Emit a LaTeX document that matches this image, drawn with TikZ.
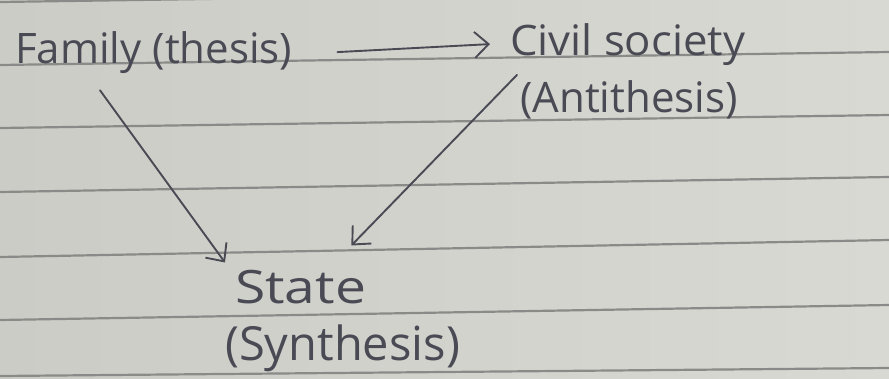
\documentclass[tikz,border=0pt]{standalone}
\usepackage{fontspec}
\setmainfont{Open Sans}
\usetikzlibrary{arrows.meta}
\definecolor{paper}{HTML}{D9D9D4}
\definecolor{paperdark}{HTML}{CCCCC7}
\definecolor{rule}{HTML}{8A8A88}
\definecolor{ink}{HTML}{4A4A55}
\tikzset{
  hand/.style={inner sep=0pt, text=ink, font=\fontsize{42}{46}\selectfont},
  arr/.style={draw=ink, line width=1.9pt, line cap=round,
    -{Straight Barb[length=14pt,width=26pt,line width=1.9pt]}},
  ruled/.style={draw=rule, line width=2.2pt}
}
\begin{document}
\begin{tikzpicture}[x=1pt,y=-1pt]
\useasboundingbox (0,0) rectangle (889,378);
\shade[left color=paperdark, right color=paper] (0,0) rectangle (889,378);
% ruled lines
\draw[ruled] (0,2) -- (889,-11);
\draw[ruled] (0,65) -- (889,52);
\draw[ruled] (0,128) -- (889,115);
\draw[ruled] (0,192) -- (889,177);
\draw[ruled] (0,257) -- (889,240);
\draw[ruled] (0,320) -- (889,305);
\draw[ruled] (0,376) -- (889,368);
% texts
\node[hand, anchor=base west] (fam) at (15,63) {Family (thesis)};
\node[hand, anchor=base west] (civ) at (510,55) {\scalebox{1.04}[1]{Civil society}};
\node[hand, anchor=base west] (ant) at (520,112) {(Antithesis)};
\node[hand, anchor=base west, font=\fontsize{46}{50}\selectfont] (st) at (235,303) {\scalebox{1.2}[1]{State}};
\node[hand, anchor=base west, font=\fontsize{47}{51}\selectfont] (syn) at (225,360) {(Synthesis)};
% connectors
\draw[arr] ([xshift=45pt]fam.east) -- ([xshift=-20pt]civ.west);
\draw[arr] ([xshift=85pt,yshift=-17pt]fam.south west) -- ([xshift=-10pt,yshift=7pt]st.north west);
\draw[arr] ([xshift=-3pt,yshift=5pt]ant.north west) -- ([xshift=-15pt,yshift=24pt]st.north east);
\end{tikzpicture}
\end{document}
